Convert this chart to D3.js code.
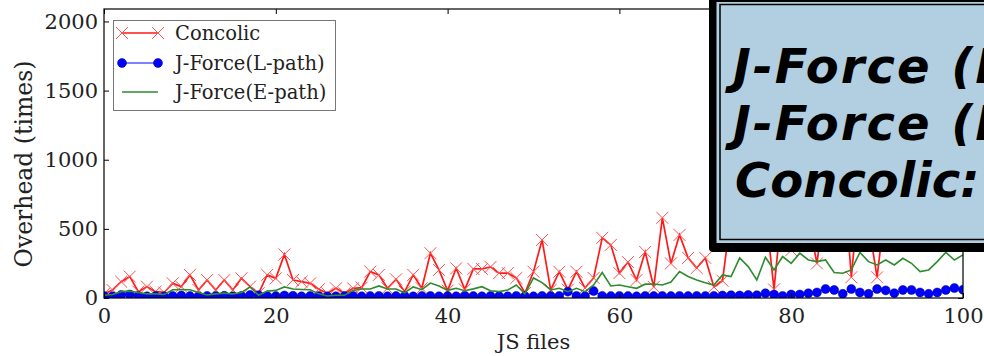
<!DOCTYPE html>
<html>
<head>
<meta charset="utf-8">
<script src="https://cdn.jsdelivr.net/npm/d3@7"></script>
<style>
  body { margin: 0; background: #fff; }
  svg { display: block; }
</style>
</head>
<body>
<svg id="chart" width="984" height="356"></svg>
<script>
// overhead per JS file (Concolic values under the box are guesses)
const fileIds = d3.range(0, 101);

const concolic = [
  30, 58, 118, 155, 46, 82, 46, 40, 106, 82,
  167, 58, 130, 58, 130, 58, 142, 82, 34, 167,
  142, 315, 130, 118, 106, 63, 34, 70, 34, 70,
  75, 191, 167, 70, 135, 46, 167, 70, 324, 203,
  53, 215, 62, 210, 210, 225, 180, 180, 145, 36,
  190, 420, 58, 190, 60, 190, 72, 145, 435, 384,
  180, 260, 130, 333, 80, 580, 250, 456, 290, 217,
  290, 80, 125, 600, 720, 520, 850, 640, 62, 700,
  345, 900, 560, 250, 760, 620, 980, 150, 820, 540,
  150, 690, 880, 610, 1050, 720, 580, 930, 660, 800,
  740
];

const lPath = [
  15, 12, 22, 25, 15, 12, 14, 12, 15, 18,
  14, 12, 15, 14, 16, 12, 15, 22, 20, 15,
  14, 18, 16, 12, 15, 14, 12, 12, 14, 15,
  12, 14, 15, 12, 14, 15, 12, 14, 15, 12,
  14, 12, 15, 14, 12, 15, 14, 12, 15, 14,
  12, 15, 14, 15, 46, 15, 14, 50, 15, 14,
  15, 14, 12, 15, 14, 15, 14, 15, 14, 15,
  14, 15, 18, 20, 18, 22, 20, 34, 25, 15,
  25, 25, 34, 40, 65, 58, 30, 65, 40, 30,
  65, 55, 35, 58, 58, 40, 30, 40, 58, 72,
  60
];

const ePath = [
  20, 25, 46, 50, 40, 30, 30, 25, 60, 62,
  60, 40, 22, 30, 35, 30, 40, 80, 20, 50,
  55, 80, 65, 62, 60, 30, 15, 20, 20, 55,
  65, 65, 87, 65, 65, 38, 80, 60, 108, 87,
  55, 70, 53, 66, 82, 53, 46, 58, 94, 29,
  145, 111, 58, 70, 46, 70, 46, 94, 184, 87,
  94, 82, 70, 100, 101, 94, 116, 191, 155, 130,
  111, 94, 167, 155, 290, 227, 130, 295, 203, 300,
  251, 324, 275, 263, 275, 184, 179, 203, 330, 263,
  239, 275, 239, 287, 251, 191, 203, 263, 330, 275,
  312
];

const xTicks = [0, 20, 40, 60, 80, 100];
const yTicks = [0, 500, 1000, 1500, 2000];
const seriesNames = ['Concolic', 'J-Force(L-path)', 'J-Force(E-path)'];
const boxLines = ['J-Force (L-path):', 'J-Force (E-path):', 'Concolic:'];

const mLeft = 104, mRight = 963, mTop = 9, mBottom = 298;
const serif = 'DejaVu Serif, serif';

const svg = d3.select('#chart');

const x = d3.scaleLinear().domain([0, 100]).range([mLeft, mRight]);
const y = d3.scaleLinear().domain([0, 2090]).range([mBottom, mTop]);

svg.append('clipPath').attr('id', 'plotclip')
  .append('rect')
  .attr('x', mLeft).attr('y', mTop)
  .attr('width', mRight - mLeft).attr('height', mBottom - mTop);

const plot = svg.append('g').attr('clip-path', 'url(#plotclip)');

const line = d3.line()
  .x((d, i) => x(fileIds[i]))
  .y(d => y(d));

// Concolic: red line with x markers
plot.append('path')
  .datum(concolic)
  .attr('d', line)
  .attr('fill', 'none')
  .attr('stroke', '#ff1a1a')
  .attr('stroke-width', 1.7);

const cross = d3.symbol().type(d3.symbolX).size(95);
plot.selectAll('.cmark')
  .data(concolic)
  .enter()
  .append('path')
  .attr('class', 'cmark')
  .attr('d', cross)
  .attr('transform', (d, i) => `translate(${x(fileIds[i])},${y(d)})`)
  .attr('fill', 'none')
  .attr('stroke', '#ff5050')
  .attr('stroke-width', 1);

// J-Force L-path: blue line with circles
plot.append('path')
  .datum(lPath)
  .attr('d', line)
  .attr('fill', 'none')
  .attr('stroke', '#0000ff')
  .attr('stroke-width', 1);

plot.selectAll('.lmark')
  .data(lPath)
  .enter()
  .append('circle')
  .attr('class', 'lmark')
  .attr('cx', (d, i) => x(fileIds[i]))
  .attr('cy', d => y(d))
  .attr('r', 4.5)
  .attr('fill', '#0000ff')
  .attr('stroke', '#000080')
  .attr('stroke-width', 0.5);

// J-Force E-path: green line
plot.append('path')
  .datum(ePath)
  .attr('d', line)
  .attr('fill', 'none')
  .attr('stroke', '#2e8b2e')
  .attr('stroke-width', 1.6);

// axes, ticks pointing inward
const axisStyle = g => {
  g.select('.domain').remove();
  g.selectAll('text')
    .attr('font-family', serif)
    .attr('font-size', 21)
    .attr('fill', '#222');
  g.selectAll('line').attr('stroke', '#000');
};

svg.append('g')
  .attr('transform', `translate(0,${mBottom})`)
  .call(d3.axisBottom(x).tickValues(xTicks).tickSize(-5).tickPadding(10).tickFormat(d3.format('d')))
  .call(axisStyle);

svg.append('g')
  .attr('transform', `translate(0,${mTop})`)
  .call(d3.axisTop(x).tickValues(xTicks).tickSize(-5).tickFormat(''))
  .call(axisStyle);

svg.append('g')
  .attr('transform', `translate(${mLeft},0)`)
  .call(d3.axisLeft(y).tickValues(yTicks).tickSize(-5).tickPadding(6).tickFormat(d3.format('d')))
  .call(axisStyle);

svg.append('g')
  .attr('transform', `translate(${mRight},0)`)
  .call(d3.axisRight(y).tickValues(yTicks).tickSize(-5).tickFormat(''))
  .call(axisStyle);

svg.append('rect')
  .attr('x', mLeft).attr('y', mTop)
  .attr('width', mRight - mLeft).attr('height', mBottom - mTop)
  .attr('fill', 'none')
  .attr('stroke', '#000')
  .attr('stroke-width', 1.2);

// axis titles
svg.append('text')
  .attr('x', (mLeft + mRight) / 2)
  .attr('y', 349)
  .attr('text-anchor', 'middle')
  .attr('font-family', serif)
  .attr('font-size', 21)
  .attr('fill', '#222')
  .text('JS files');

svg.append('text')
  .attr('transform', 'translate(32,164) rotate(-90)')
  .attr('text-anchor', 'middle')
  .attr('font-family', serif)
  .attr('font-size', 23.5)
  .attr('fill', '#222')
  .text('Overhead (times)');

// legend
const legend = svg.append('g');
legend.append('rect')
  .attr('x', 113.5).attr('y', 20.5)
  .attr('width', 222).attr('height', 90)
  .attr('fill', '#fff')
  .attr('stroke', '#777')
  .attr('stroke-width', 1);

const legendY = [33, 63, 92];
const lx0 = 122, lx1 = 158;

legend.append('line')
  .attr('x1', lx0).attr('x2', lx1)
  .attr('y1', legendY[0]).attr('y2', legendY[0])
  .attr('stroke', '#ff1a1a').attr('stroke-width', 1.6);
legend.selectAll('.lgx')
  .data([lx0, lx1])
  .enter()
  .append('path')
  .attr('d', cross)
  .attr('transform', d => `translate(${d},${legendY[0]})`)
  .attr('fill', 'none')
  .attr('stroke', '#ff5050');

legend.append('line')
  .attr('x1', lx0).attr('x2', lx1)
  .attr('y1', legendY[1]).attr('y2', legendY[1])
  .attr('stroke', '#0000ff').attr('stroke-width', 1);
legend.selectAll('.lgc')
  .data([lx0, lx1])
  .enter()
  .append('circle')
  .attr('cx', d => d).attr('cy', legendY[1]).attr('r', 4.5)
  .attr('fill', '#0000ff')
  .attr('stroke', '#000080').attr('stroke-width', 0.5);

legend.append('line')
  .attr('x1', lx0).attr('x2', lx1)
  .attr('y1', legendY[2]).attr('y2', legendY[2])
  .attr('stroke', '#2e8b2e').attr('stroke-width', 1.6);

legend.selectAll('.lgt')
  .data(seriesNames)
  .enter()
  .append('text')
  .attr('x', 175)
  .attr('y', (d, i) => legendY[i])
  .attr('dy', '0.35em')
  .attr('font-family', serif)
  .attr('font-size', 19.5)
  .attr('fill', '#222')
  .text(d => d);

// overlay callout box on the right (runs off the right edge)
const box = svg.append('g');
box.append('rect')
  .attr('x', 709).attr('y', -12)
  .attr('width', 300).attr('height', 264)
  .attr('rx', 4)
  .attr('fill', '#000');
box.append('rect')
  .attr('x', 716.5).attr('y', 2)
  .attr('width', 290).attr('height', 241)
  .attr('fill', '#b1cfe1');
box.append('rect')
  .attr('x', 720).attr('y', 4.5)
  .attr('width', 290).attr('height', 235)
  .attr('fill', 'none')
  .attr('stroke', '#000')
  .attr('stroke-width', 1.5);

box.selectAll('.boxt')
  .data(boxLines)
  .enter()
  .append('text')
  .attr('x', (d, i) => i === 2 ? 735 : 733)
  .attr('y', (d, i) => 83 + i * 57)
  .attr('font-family', 'DejaVu Sans, sans-serif')
  .attr('font-weight', 'bold')
  .attr('font-style', 'italic')
  .attr('font-size', 48)
  .attr('letter-spacing', (d, i) => i === 2 ? 0 : 2)
  .attr('word-spacing', (d, i) => i === 2 ? 0 : 1)
  .attr('fill', '#000')
  .text(d => d);
</script>
</body>
</html>
